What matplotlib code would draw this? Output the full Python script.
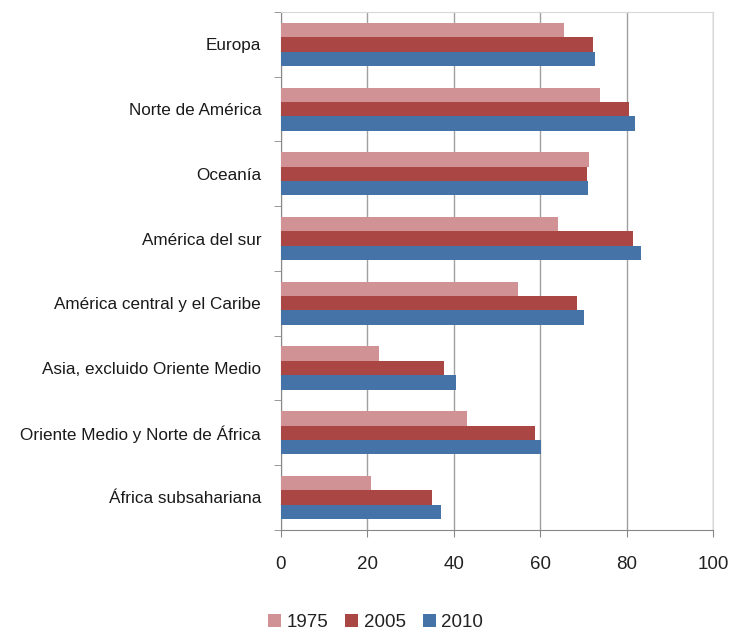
import matplotlib.pyplot as plt
import numpy as np

regions = [
    "Europa",
    "Norte de América",
    "Oceanía",
    "América del sur",
    "América central y el Caribe",
    "Asia, excluido Oriente Medio",
    "Oriente Medio y Norte de África",
    "África subsahariana",
]
years = ["1975", "2005", "2010"]
v1975 = [65.5, 73.8, 71.4, 64.2, 54.9, 22.7, 43.1, 21.0]
v2005 = [72.2, 80.6, 70.8, 81.6, 68.5, 37.7, 58.8, 35.1]
v2010 = [72.8, 82.0, 71.2, 83.3, 70.2, 40.6, 60.3, 37.1]
colors = ["#D09294", "#AA4644", "#4573A8"]

fig = plt.figure(figsize=(7.29, 6.30), dpi=100)
ax = fig.add_axes([0.385, 0.159, 0.593, 0.822])

y = np.arange(len(regions))
h = 0.222
for i, (vals, col, lab) in enumerate(zip([v1975, v2005, v2010], colors, years)):
    ax.barh(y + (i - 1) * h, vals, height=h, color=col, label=lab, zorder=3)

ax.set_xlim(0, 100)
ax.set_ylim(len(regions) - 0.5, -0.5)
ax.set_xticks(range(0, 101, 20))
ax.set_yticks(y)
ax.set_yticklabels(regions, fontsize=12.3, family="Liberation Sans", color="#1A1A1A")
ax.set_yticks(np.arange(-0.5, len(regions), 1), minor=True)
ax.tick_params(axis="y", which="major", length=0, pad=14)
ax.tick_params(axis="y", which="minor", length=5, color="#888888", direction="out")
ax.tick_params(axis="x", length=5, color="#888888", labelsize=13.5, pad=14,
               labelcolor="#222222")
for lbl in ax.get_xticklabels():
    lbl.set_family("Liberation Sans")
ax.xaxis.grid(True, color="#A0A0A0", linewidth=1.0, zorder=0)
for s in ["top", "right"]:
    ax.spines[s].set_color("#D8D8D8")
for s in ["left", "bottom"]:
    ax.spines[s].set_color("#888888")

leg = fig.legend(loc="lower left", bbox_to_anchor=(0.344, -0.028), ncol=3, frameon=False,
                 handlelength=0.7, handleheight=0.7, handletextpad=0.3,
                 columnspacing=0.9, prop={"family": "Liberation Sans", "size": 13.5})
for t in leg.get_texts():
    t.set_color("#222222")

fig.savefig("out.png", dpi=100)
